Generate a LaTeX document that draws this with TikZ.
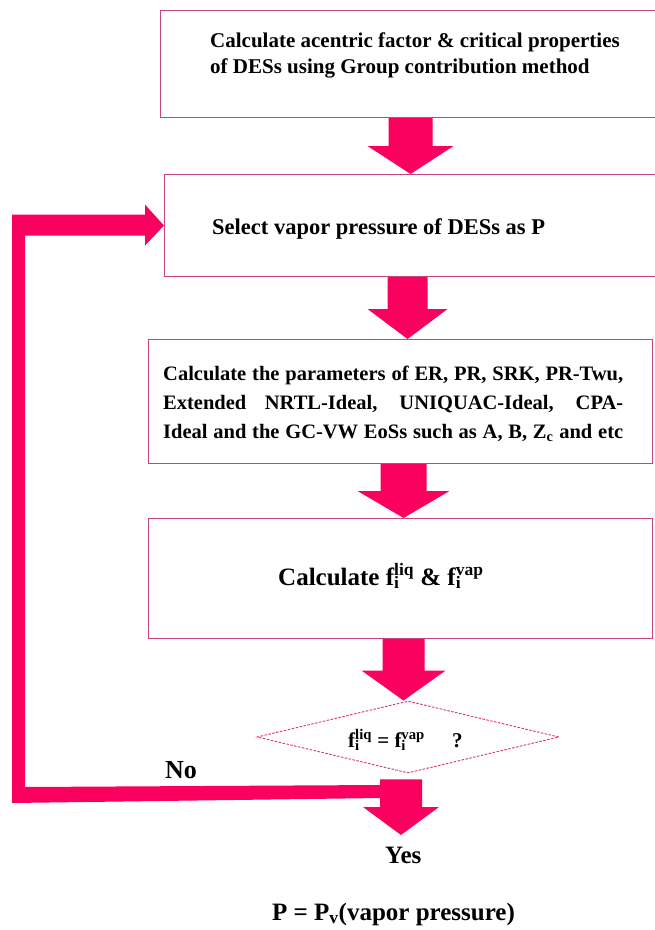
\documentclass[tikz,border=0pt]{standalone}
\usepackage{fontspec}
\setmainfont{Liberation Serif}
\usetikzlibrary{calc,shapes.geometric}
\definecolor{arrpink}{HTML}{FA005F}
\definecolor{boxline}{HTML}{C8447E}
\definecolor{dialine}{HTML}{E0306A}
% block arrow: #1 start (top centre), #2 tip, #3 shaft half width, #4 head half width, #5 head length
\newcommand\blockarr[5]{\fill[arrpink] let \p1=#1, \p2=#2 in
  (\x1-#3pt,\y1) -- (\x1+#3pt,\y1) -- (\x1+#3pt,\y2+#5pt) -- (\x1+#4pt,\y2+#5pt)
  -- (\x1,\y2) -- (\x1-#4pt,\y2+#5pt) -- (\x1-#3pt,\y2+#5pt) -- cycle;}
\newcommand\fsup[1]{f\rlap{\textsubscript{i}}\textsuperscript{#1}}
\begin{document}
\begin{tikzpicture}[x=1pt,y=-1pt,
  box/.style={draw=boxline, line width=1.1pt, fill=white, inner sep=0pt, anchor=north west},
  txt/.style={anchor=base west, inner sep=0pt, text=black}]
\useasboundingbox (0,0) rectangle (654,930);
\fill[white] (0,0) rectangle (654,930);

% boxes
\node[box, minimum width=495pt, minimum height=107pt] (b1) at (160,10) {};
\node[box, minimum width=491pt, minimum height=102pt] (b2) at (164,174) {};
\node[box, minimum width=504pt, minimum height=124pt] (b3) at (148,339) {};
\node[box, minimum width=504pt, minimum height=120pt] (b4) at (148,518) {};
\node[diamond, draw=dialine, dashed, dash pattern=on 2.5pt off 1.5pt, line width=0.9pt,
      minimum width=302pt, minimum height=72pt, inner sep=0pt] (dia) at (408,737) {};

% texts
\node[txt, font=\bfseries\fontsize{21}{25}\selectfont] (t1a) at (210,47) {Calculate acentric factor \& critical properties};
\node[txt, font=\bfseries\fontsize{21}{25}\selectfont] (t1b) at (210,73) {of DESs using Group contribution method};
\node[txt, font=\bfseries\fontsize{22.5}{27}\selectfont] (t2) at (212,234) {Select vapor pressure of DESs as P};
\node[txt, font=\bfseries\fontsize{20.5}{25}\selectfont] (t3a) at (163,380) {\makebox[460pt][s]{Calculate the parameters of ER, PR, SRK, PR-Twu,}};
\node[txt, font=\bfseries\fontsize{20.5}{25}\selectfont] (t3b) at (163,409) {\makebox[460pt][s]{Extended NRTL-Ideal, UNIQUAC-Ideal, CPA-}};
\node[txt, font=\bfseries\fontsize{20.5}{25}\selectfont] (t3c) at (163,438) {\makebox[460pt][s]{Ideal and the GC-VW EoSs such as A, B, Z\textsubscript{c} and etc}};
\node[txt, font=\bfseries\fontsize{25}{30}\selectfont] (t4) at (278,585) {Calculate \fsup{liq} \& \fsup{vap}};
\node[txt, font=\bfseries\fontsize{21}{25}\selectfont] (td) at (348,747) {\fsup{liq} = \fsup{vap}\hspace{1.3em}?};
\node[txt, font=\bfseries\fontsize{26}{30}\selectfont] (no) at (165,778) {No};
\node[txt, font=\bfseries\fontsize{25}{30}\selectfont] (yes) at (385,863) {Yes};
\node[txt, font=\bfseries\fontsize{25}{30}\selectfont] (res) at (272,920) {P = P\textsubscript{v}(vapor pressure)};

% block arrows
\blockarr{([xshift=2.5pt]b1.south)}{([xshift=2.5pt]b2.north)}{22}{43}{28}
\blockarr{([xshift=-2.5pt]b2.south)}{([xshift=-2.5pt]b3.north)}{20}{40}{30}
\blockarr{([xshift=3pt]b3.south)}{([xshift=3pt]b4.north)}{23}{46}{27}
\blockarr{([xshift=3pt]b4.south)}{([xshift=3pt]dia.north)}{21}{42}{30}
\coordinate (yestip) at (401,835);
\blockarr{([xshift=-7pt,yshift=-6pt]dia.south)}{(yestip)}{21}{38}{28}

% "No" loop back to b2
\coordinate (nofrom) at (381,791);
\fill[arrpink] let \p1=(b2.west), \p2=(nofrom) in
  (\x1,\y1) -- (\x1-19pt,\y1+21pt) -- (\x1-19pt,\y1+11pt) -- (\x1-152pt,\y1+11pt)
  -- (\x1-152pt,\y2-12pt) -- (\x2,\y2-7pt) -- (\x2,\y2+6pt) -- (\x1-139pt,\y2+4pt)
  -- (\x1-139pt,\y1-10pt) -- (\x1-19pt,\y1-10pt) -- (\x1-19pt,\y1-20pt) -- cycle;
\end{tikzpicture}
\end{document}
